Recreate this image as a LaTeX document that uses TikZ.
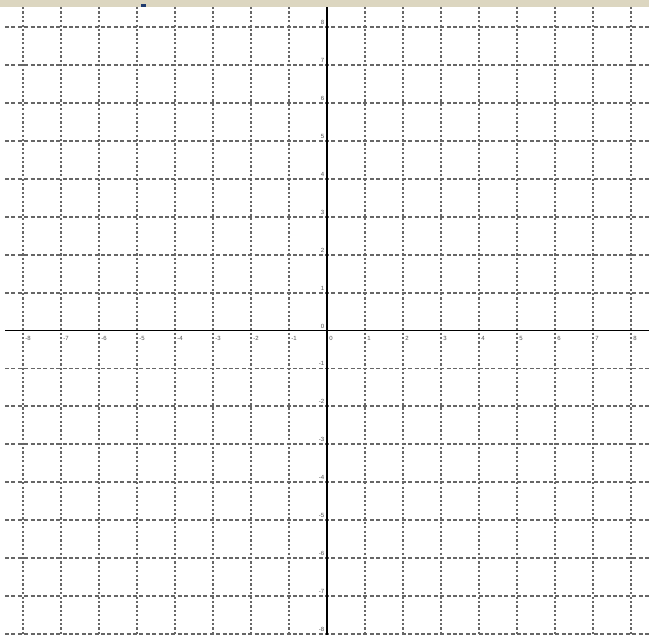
\documentclass[tikz,border=0pt]{standalone}
\usepackage{fontspec}
\setmainfont{Liberation Sans}
\definecolor{stripbeige}{HTML}{DCD6C0}
\definecolor{titleblue}{HTML}{1F3B6F}
\definecolor{gridgray}{HTML}{666666}
\definecolor{labelgray}{HTML}{505050}
\begin{document}
\begin{tikzpicture}[x=1pt,y=-1pt,
  gridh/.style={draw=gridgray, line width=1.8pt, dash pattern=on 4pt off 2.4pt},
  gridv/.style={draw=gridgray, line width=1.8pt, dash pattern=on 2.2pt off 2.2pt},
  axisline/.style={draw=black, line width=1.6pt},
  lbl/.style={font=\fontsize{6}{7}\selectfont, text=labelgray, inner sep=0pt}]
\useasboundingbox (0,0) rectangle (649,635);
\fill[white] (0,0) rectangle (649,635);
% cropped title strip
\fill[stripbeige] (0,0) rectangle (649,7);
\fill[titleblue] (141,3.5) rectangle (146,7);
% grid
\foreach \k in {-8,...,-1,1,2,...,8} {
  \draw[gridv] ({326.7+38*\k},7) -- ({326.7+38*\k},635);
  \draw[gridh] (5,{330.5-37.9*\k}) -- (649,{330.5-37.9*\k});
}
% axes
\coordinate (xl) at (5,330.5);
\coordinate (xr) at (649,330.5);
\coordinate (yt) at (326.7,7);
\coordinate (yb) at (326.7,635);
\draw[axisline] (xl) -- (xr);
\draw[axisline] (yt) -- (yb);
% x-axis labels
\foreach \k in {-8,...,8} {
  \node[lbl, anchor=west] (xlab\k) at ({326.7+38*\k+2.5},338) {\k};
}
% y-axis labels
\foreach \k in {-8,...,8} {
  \node[lbl, anchor=east] (ylab\k) at (324.5,{330.5-37.9*\k-4.5}) {\k};
}
\end{tikzpicture}
\end{document}
